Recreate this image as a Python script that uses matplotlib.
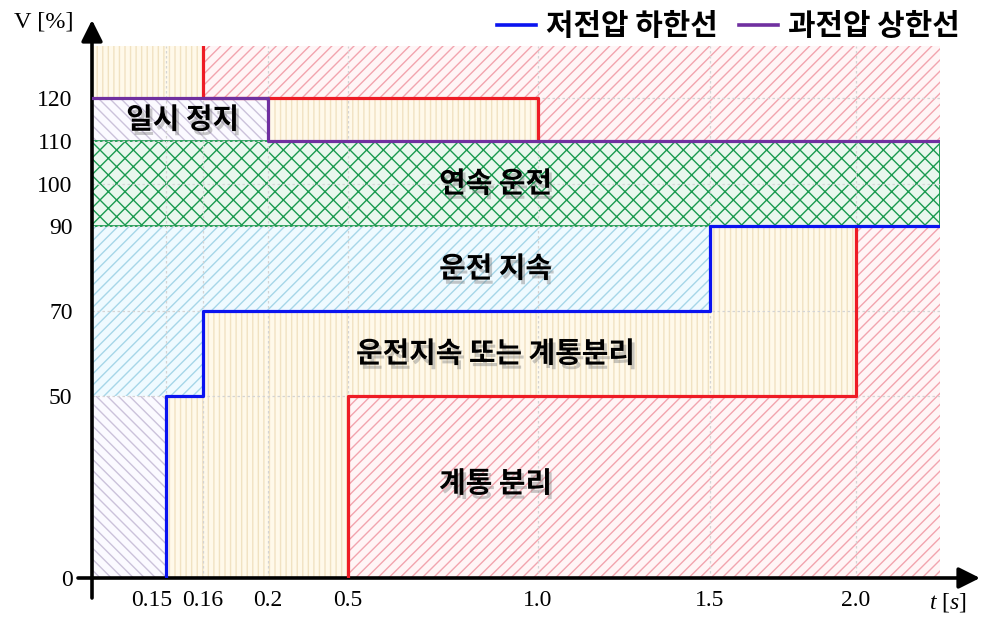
import numpy as np
import matplotlib
matplotlib.use('Agg')
import matplotlib.pyplot as plt
import matplotlib.patheffects as pe
from matplotlib.lines import Line2D
from matplotlib.transforms import ScaledTranslation, blended_transform_factory

plt.rcParams['font.family'] = ['Noto Sans CJK KR', 'DejaVu Sans']
plt.rcParams['mathtext.fontset'] = 'custom'
plt.rcParams['mathtext.rm'] = 'Liberation Serif'
plt.rcParams['mathtext.it'] = 'Liberation Serif:italic'
plt.rcParams['hatch.linewidth'] = 1.0

# ---- data ----
t_ticks = [0.15, 0.16, 0.2, 0.5, 1.0, 1.5, 2.0]
t_labels = ['0.15', '0.16', '0.2', '0.5', '1.0', '1.5', '2.0']
v_ticks = [0, 50, 70, 90, 100, 110, 120]
t_end = 2.29
v_top = 132

# 저전압 하한선 (blue)
lv_t = [0.15, 0.15, 0.16, 0.16, 1.5, 1.5, t_end]
lv_v = [0, 50, 50, 70, 70, 90, 90]
# 과전압 상한선 (purple)
ov_t = [0, 0.2, 0.2, t_end]
ov_v = [120, 120, 110, 110]
# trip limits (red)
trip_lo_t = [0.5, 0.5, 2.0, 2.0]
trip_lo_v = [0, 50, 50, 90]
trip_hi_t = [0.16, 0.16, 1.0, 1.0]
trip_hi_v = [v_top, 120, 120, 110]

# ---- non-linear axes: value -> pixel knots ----
x_knot_val = [0, 0.15, 0.16, 0.2, 0.5, 1.0, 1.5, 2.0, t_end]
x_knot_px = [92, 166, 203, 268, 348, 538, 710, 856, 940]
y_knot_val = [0, 50, 70, 90, 110, 120, v_top]
y_knot_px = [628 - p for p in [578, 396, 311, 226, 141, 98, 46]]


def xf(v):
    return np.interp(v, x_knot_val, x_knot_px)


def xi(p):
    return np.interp(p, x_knot_px, x_knot_val)


def yf(v):
    return np.interp(v, y_knot_val, y_knot_px)


def yi(p):
    return np.interp(p, y_knot_px, y_knot_val)


fig = plt.figure(figsize=(9.84, 6.28), dpi=100)
ax = fig.add_axes([92 / 984, 50 / 628, 848 / 984, 532 / 628])
ax.set_xscale('function', functions=(xf, xi))
ax.set_yscale('function', functions=(yf, yi))
ax.set_xlim(0, t_end)
ax.set_ylim(0, v_top)

RED = '#ee1c25'
BLUE = '#0a14f0'
PURPLE = '#7030a0'
GREEN = '#1a9a50'

red_kw = dict(facecolor='#fff5f6', edgecolor='#f2a4ae', hatch='///', lw=0)
cream_kw = dict(facecolor='#fff9ea', edgecolor='#f1e2c2', hatch='|||', lw=0)
blue_kw = dict(facecolor='#effaff', edgecolor='#a6d6e8', hatch='///', lw=0)
purple_kw = dict(facecolor='#fbfaff', edgecolor='#cbc2da', hatch='\\\\\\', lw=0)

# ---- regions ----
# 계통 분리 (red hatch)
ax.fill(trip_lo_t + [t_end, t_end], trip_lo_v + [90, 0], **red_kw)
ax.fill(trip_hi_t + [t_end, t_end], trip_hi_v + [110, v_top], **red_kw)
# 운전지속 또는 계통분리 (cream)
ax.fill(lv_t[:6] + trip_lo_t[::-1], lv_v[:6] + trip_lo_v[::-1], **cream_kw)
ax.fill([0, trip_hi_t[0], trip_hi_t[0], 0], [ov_v[0], ov_v[0], v_top, v_top], **cream_kw)
ax.fill([ov_t[1], trip_hi_t[2], trip_hi_t[2], ov_t[1]],
        [ov_v[2], ov_v[2], ov_v[0], ov_v[0]], **cream_kw)
# 운전 지속 (blue hatch)
ax.fill([0] + lv_t[1:6] + [0], [lv_v[1]] + lv_v[1:6] + [90], **blue_kw)
# 일시 정지 (purple hatch)
ax.fill([0, lv_t[0], lv_t[0], 0], [0, 0, lv_v[1], lv_v[1]], **purple_kw)
ax.fill([0, ov_t[1], ov_t[1], 0], [ov_v[2], ov_v[2], ov_v[0], ov_v[0]], **purple_kw)
# 연속 운전 (green cross hatch)
ax.fill([0, t_end, t_end, 0], [90, 90, 110, 110],
        facecolor='#e9f7ee', edgecolor=GREEN, hatch='xx', lw=1.3)

# ---- boundary lines ----
ax.plot(trip_lo_t, trip_lo_v, color=RED, lw=2.3, zorder=4)
ax.plot(trip_hi_t, trip_hi_v, color=RED, lw=2.3, zorder=4)
ax.plot(ov_t, ov_v, color=PURPLE, lw=2.3, zorder=5)
ax.plot(lv_t, lv_v, color=BLUE, lw=2.3, zorder=5)

# ---- axes styling ----
for s in ax.spines.values():
    s.set_visible(False)
ax.set_xticks(t_ticks)
ax.set_xticklabels(t_labels, family='Liberation Serif', fontsize=17)
ax.set_yticks(v_ticks)
ax.set_yticklabels([str(v) for v in v_ticks], family='Liberation Serif', fontsize=17)
ax.tick_params(axis='x', length=0, pad=9)
ax.tick_params(axis='y', length=0, pad=14)
ax.grid(True, ls=(0, (2, 2)), color='#d4d4d4', lw=0.9)
lab = ax.get_xticklabels()[0]
lab.set_transform(lab.get_transform() + ScaledTranslation(-0.14, 0, fig.dpi_scale_trans))

# axis arrows
arrow = dict(arrowstyle='-|>,head_length=0.8,head_width=0.4', lw=2.6, color='k',
             mutation_scale=16, shrinkA=0, shrinkB=0)
ax.annotate('', xy=(92, 628 - 20), xytext=(92, 628 - 598), xycoords='figure pixels',
            textcoords='figure pixels', arrowprops=arrow)
ax.annotate('', xy=(980, 628 - 578), xytext=(78, 628 - 578), xycoords='figure pixels',
            textcoords='figure pixels', arrowprops=arrow)

fig.text(44 / 984, 1 - 22 / 628, 'V [%]', family='Liberation Serif', fontsize=17.5,
         ha='center', va='center')
fig.text(948 / 984, 1 - 603 / 628, r'$t\ [s]$', fontsize=17, ha='center', va='center')

# ---- region labels ----
shadow = [pe.SimplePatchShadow(offset=(2, -3), shadow_rgbFace='#777777', alpha=0.4),
          pe.Normal()]
tr = blended_transform_factory(ax.transAxes, ax.transData)
labels = [
    ('일시 정지', 0.107, 115),
    ('연속 운전', 0.476, 100),
    ('운전 지속', 0.476, 80),
    ('운전지속 또는 계통분리', 0.476, 60),
    ('계통 분리', 0.476, 26),
]
for txt, x, y in labels:
    ax.text(x, y, txt, transform=tr, fontsize=20.8, fontweight='bold', ha='center',
            va='center', zorder=6, path_effects=shadow)

# ---- legend ----
handles = [Line2D([], [], color=BLUE, lw=2.6), Line2D([], [], color=PURPLE, lw=2.6)]
fig.legend(handles, ['저전압 하한선', '과전압 상한선'], loc='center right',
           bbox_to_anchor=(960 / 984, 1 - 26 / 628), ncol=2, frameon=False,
           prop={'weight': 'bold', 'size': 21.5}, handlelength=1.3, handletextpad=0.35,
           columnspacing=0.7, borderpad=0, borderaxespad=0)

fig.savefig('out.png', dpi=100)
